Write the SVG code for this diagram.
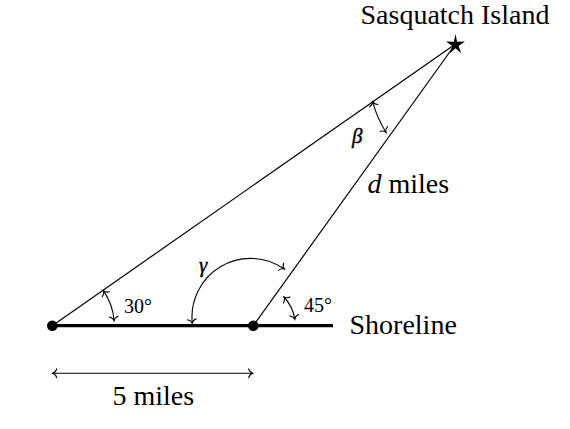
<svg xmlns="http://www.w3.org/2000/svg" width="570" height="429" viewBox="0 0 570 429">
<style>
.thin{fill:none;stroke:#000;stroke-width:1.2}
.thick{fill:none;stroke:#000;stroke-width:3.3}
.ang{fill:none;stroke:#000;stroke-width:1.1;marker-start:url(#tip);marker-end:url(#tip)}
.big{font-family:"Liberation Serif","Times New Roman",serif;font-size:28px;fill:#000}
.small{font-family:"Liberation Serif","Times New Roman",serif;font-size:20px;fill:#000}
.greek{font-family:"Liberation Serif","Times New Roman",serif;font-size:21px;font-style:italic;fill:#000;stroke:#000;stroke-width:0.4}
.it{font-style:italic}
</style>
<defs>
<marker id="tip" markerUnits="userSpaceOnUse" markerWidth="12" markerHeight="12" refX="0" refY="0" viewBox="-6 -6 12 12" orient="auto-start-reverse" overflow="visible">
<path d="M -4 -4.4 C -3.3 -2 -1.3 -0.4 0 0 C -1.3 0.4 -3.3 2 -4 4.4" fill="none" stroke="#000" stroke-width="1.1" stroke-linecap="round"/>
</marker>
</defs>
<rect width="570" height="429" fill="#fff"/>
<g id="connectors">
<path class="thin" d="M 52.3 325.7 L 455.5 44"/>
<path class="thin" d="M 253.3 325.7 L 455.5 44"/>
<path class="thick" d="M 52.3 325.7 H 333"/>
<path class="ang" d="M 52.7 373.3 H 252.7"/>
<path class="ang" d="M 103.6 290.9 A 62 62 0 0 1 114.1 320.6"/>
<path class="ang" d="M 284 297 A 42 42 0 0 1 294.8 319.2"/>
<path class="ang" d="M 192.3 323.3 A 58.7 58.7 0 0 1 284.3 269"/>
<path class="ang" d="M 372.7 101.7 A 106 106 0 0 0 386 132.3"/>
</g>
<g id="point-a"><circle cx="52.3" cy="325.7" r="5.3" fill="#000"/></g>
<g id="point-b"><circle cx="253.3" cy="325.7" r="5.3" fill="#000"/></g>
<g id="island">
<polygon fill="#000" points="455.5,34 457.1,41.8 465,41.4 458.6,46.1 461.2,53.2 455.5,48.3 449.8,53.2 452.4,46.1 446,41.4 453.9,41.8"/>
<text class="big" x="360.5" y="24">Sasquatch Island</text>
</g>
<g id="labels">
<text class="big" x="349.5" y="334">Shoreline</text>
<text class="big" x="367.5" y="193"><tspan class="it">d</tspan> miles</text>
<text class="big" x="112.5" y="405">5 miles</text>
<text class="small" x="124" y="312.5">30°</text>
<text class="small" x="304" y="312">45°</text>
<text class="greek" x="199" y="272">γ</text>
<text class="greek" x="352" y="143">β</text>
</g>
</svg>
